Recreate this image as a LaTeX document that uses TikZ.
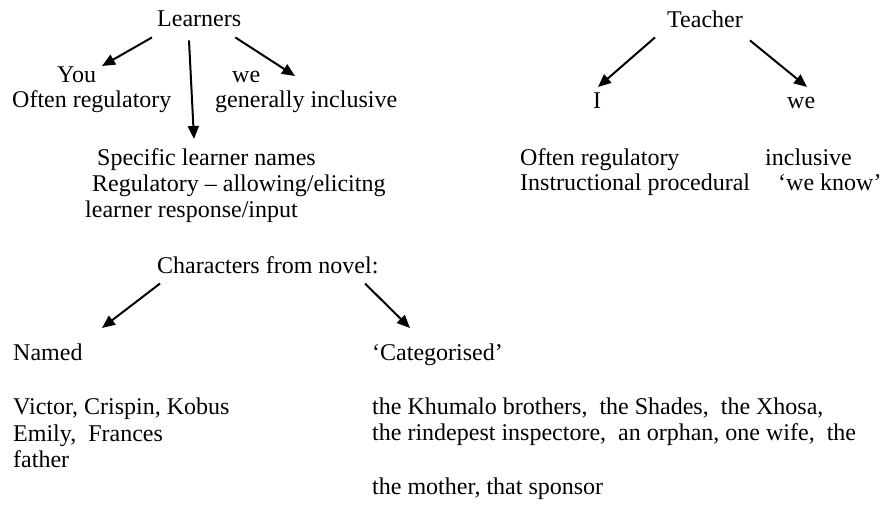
\documentclass[tikz,border=0pt]{standalone}
\usepackage{fontspec}
\setmainfont{Liberation Serif}
\usetikzlibrary{arrows.meta}

\tikzset{
  lbl/.style={anchor=base west, inner sep=0pt, font=\fontsize{24}{26}\selectfont},
  arr/.style={-{Triangle[length=13pt,width=11pt]}, line width=2pt}
}

\begin{document}
\begin{tikzpicture}[x=1pt,y=-1pt]
		\useasboundingbox (0,0) rectangle (885,504);

		% learners
		\node[lbl] (learners) at (157,26) {Learners};
		\node[lbl] (you) at (57,82) {You};
		\node[lbl] (youreg) at (12,107) {Often regulatory};
		\node[lbl] (lwe) at (232,82) {we};
		\node[lbl] (lweinc) at (215,107) {generally inclusive};
		\node[lbl] (names) at (97,165) {Specific learner names};
		\node[lbl] (namesreg) at (92,191) {Regulatory -- allowing/elicitng};
		\node[lbl] (namesresp) at (85,217) {learner response/input};

		% teacher
		\node[lbl] (teacher) at (667,27) {Teacher};
		\node[lbl] (i) at (593,108) {I};
		\node[lbl] (twe) at (787,108) {we};
		\node[lbl] (ireg) at (520,165) {Often regulatory};
		\node[lbl] (iinst) at (520,190) {Instructional procedural};
		\node[lbl] (tweinc) at (765,165) {inclusive};
		\node[lbl] (tweknow) at (778,190) {`we know'};

		% characters
		\node[lbl] (chars) at (157,273) {Characters from novel:};
		\node[lbl] (named) at (13,360) {Named};
		\node[lbl] (cat) at (372,360) {`Categorised'};
		\node[lbl] (victor) at (13,414) {Victor, Crispin, Kobus};
		\node[lbl] (emily) at (13,441) {Emily,\ \ Frances};
		\node[lbl] (father) at (13,467) {father};
		\node[lbl] (khumalo) at (372,414) {the Khumalo brothers,\ \ the Shades,\ \ the Xhosa,};
		\node[lbl] (rinde) at (372,440) {the rindepest inspectore,\ \ an orphan, one wife,\ \ the};
		\node[lbl] (mother) at (372,494) {the mother, that sponsor};

		\coordinate (youtip) at (102,66);
		\coordinate (namestip) at (194,139);
		\coordinate (lwetip) at (295,76);
		\coordinate (itip) at (598,87);
		\coordinate (twetip) at (807,87);
		\coordinate (namedtip) at (102,328);
		\coordinate (cattip) at (410,328);

		\draw[arr] ([xshift=-5pt,yshift=-11pt]learners.south west) -- (youtip);
		\draw[arr] ([xshift=32pt,yshift=-14pt]learners.south west) -- (namestip);
		\draw[arr] ([xshift=-6pt,yshift=-11pt]learners.south east) -- (lwetip);
		\draw[arr] ([xshift=-12pt,yshift=-10pt]teacher.south west) -- (itip);
		\draw[arr] ([xshift=83pt,yshift=-13pt]teacher.south west) -- (twetip);
		\draw[arr] ([xshift=3pt,yshift=-10pt]chars.south west) -- (namedtip);
		\draw[arr] ([xshift=208pt,yshift=-10pt]chars.south west) -- (cattip);
	\end{tikzpicture}
\end{document}
